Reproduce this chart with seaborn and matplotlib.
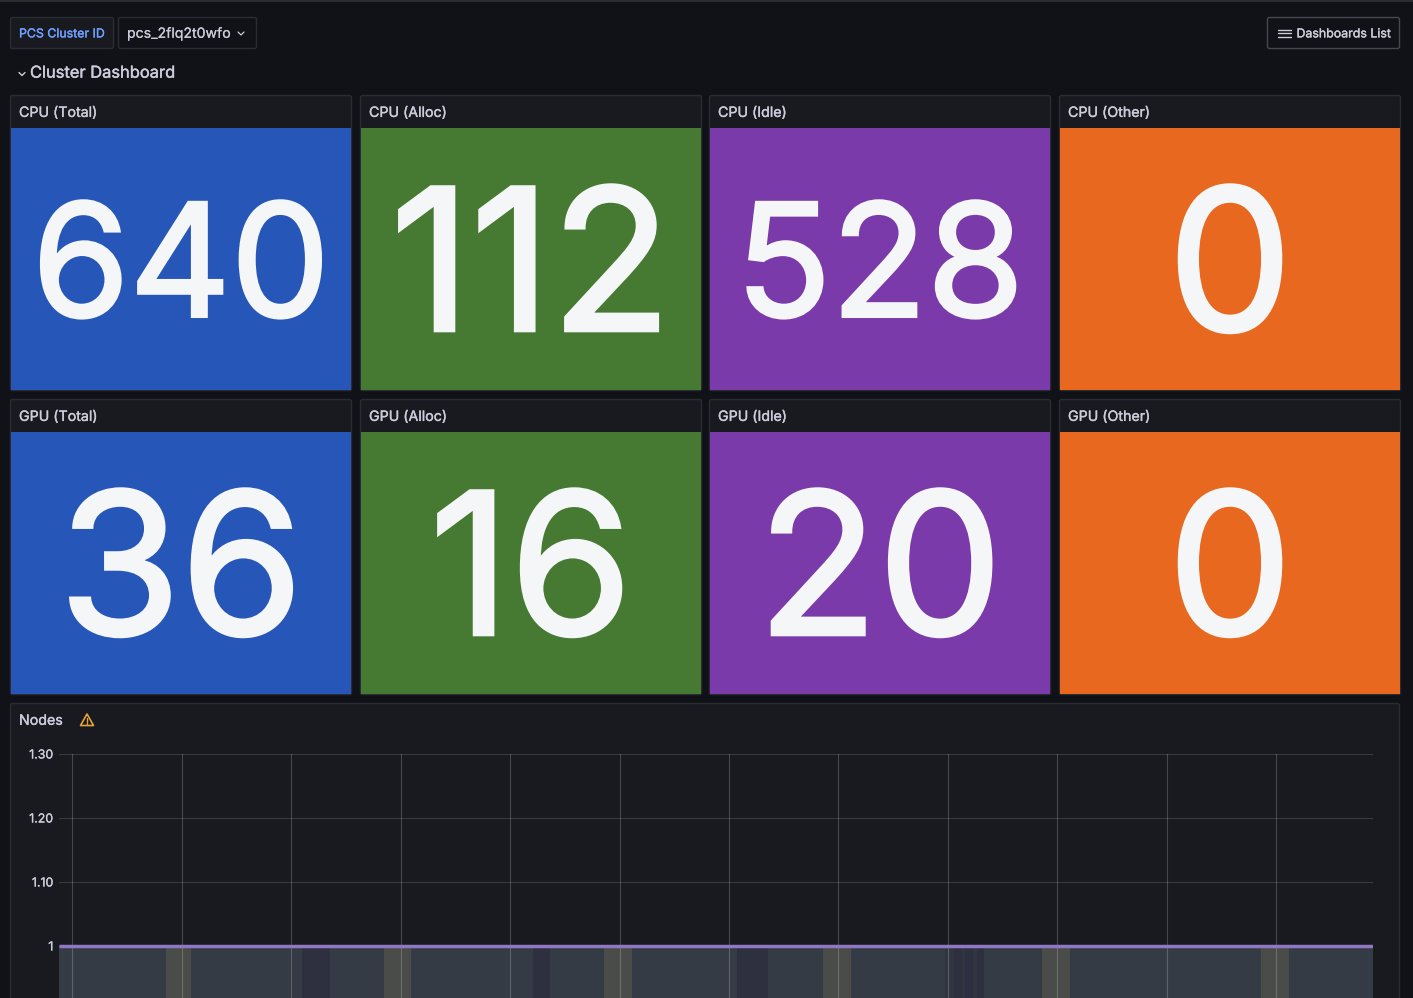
import numpy as np
import pandas as pd
import matplotlib
matplotlib.use("Agg")
import matplotlib.pyplot as plt
import matplotlib.patheffects as pe
from matplotlib.colors import ListedColormap
from matplotlib.patches import FancyBboxPatch, Rectangle, Polygon
import seaborn as sns

# ---- data ----
stat_titles_cpu = ["CPU (Total)", "CPU (Alloc)", "CPU (Idle)", "CPU (Other)"]
stat_titles_gpu = ["GPU (Total)", "GPU (Alloc)", "GPU (Idle)", "GPU (Other)"]
stat_values_cpu = [640, 112, 528, 0]
stat_values_gpu = [36, 16, 20, 0]
stat_colors = ["#2656b8", "#467931", "#7b3aa9", "#e9681f"]

node_x = [-0.119, 11.88]          # grid-step units along the time axis
node_y = [1, 1]
y_ticks = [1.0, 1.1, 1.2, 1.3]
y_tick_labels = ["1", "1.10", "1.20", "1.30"]
time_ticks = list(range(12))
olive_start = [0.855, 2.85, 4.86, 6.855, 8.857, 10.86]
olive_end = [1.088, 3.09, 5.11, 7.11, 9.113, 11.115]
dark_start = [2.10, 4.205, 6.07, 8.06, 8.16, 8.263]
dark_end = [2.354, 4.36, 6.36, 8.126, 8.227, 8.327]
faint_start = [7.97]
faint_end = [8.327]

PAGE = "#111217"
PANEL = "#181a1f"
BORDER = "#2a2c31"
TEXT = "#ccccdc"
W, H = 1413, 998

sns.set_theme(style="dark")
plt.rcParams["font.family"] = ["Inter", "DejaVu Sans"]

fig = plt.figure(figsize=(W / 100, H / 100), dpi=100, facecolor=PAGE)


def frac(x0, y0, x1, y1):
    return [x0 / W, 1 - y1 / H, (x1 - x0) / W, (y1 - y0) / H]


def heavy(width, color):
    return [pe.withStroke(linewidth=width, foreground=color, joinstyle="miter")]


# chrome layer in pixel coordinates
bg = fig.add_axes([0, 0, 1, 1], zorder=0)
bg.set_xlim(0, W)
bg.set_ylim(H, 0)
bg.axis("off")


def box(x0, y0, x1, y1, fc=PANEL, ec=BORDER, lw=1.0, r=2):
    bg.add_patch(FancyBboxPatch((x0, y0), x1 - x0, y1 - y0,
                                boxstyle=f"round,pad=0,rounding_size={r}",
                                fc=fc, ec=ec, lw=lw))


def label(x, y, s, color=TEXT, size=10.25, stroke=0.25):
    bg.text(x, y, s, color=color, fontsize=size, va="center",
            path_effects=heavy(stroke, color))


bg.add_patch(Rectangle((0, 0), W, 1.5, fc="#2a2c31", ec="none"))

# top bar
box(10.5, 17.5, 113.5, 48.5)
label(19, 34.4, "PCS Cluster ID", color="#6e9fff", size=8.9)
box(118.5, 17.5, 256.5, 48.5, fc=PAGE)
label(127, 33.8, "pcs_2flq2t0wfo", size=10.15, stroke=0.1)
bg.plot([238, 241, 244], [32, 35, 32], color=TEXT, lw=0.9)
box(1267.5, 17.5, 1399.5, 48.5, fc=PAGE, ec="#45474d")
for yy in (29.5, 33, 36.5):
    bg.plot([1278, 1290.5], [yy, yy], color=TEXT, lw=1.0)
label(1296.5, 34.4, "Dashboards List", size=8.9)

# row title
bg.plot([19, 22, 25], [72.5, 75.5, 72.5], color=TEXT, lw=1.0)
label(30, 73.2, "Cluster Dashboard", size=11.85, stroke=0.3)

# stat tiles
tile_x = [(11, 351), (361, 701), (710, 1050), (1060, 1400)]
rows = [(95.5, 128, 390, stat_titles_cpu, stat_values_cpu),
        (399.5, 432, 694, stat_titles_gpu, stat_values_gpu)]
for top, y0, y1, titles, values in rows:
    for (x0, x1), title, value, color in zip(tile_x, titles, values, stat_colors):
        box(x0 - 0.5, top, x1 + 0.5, y1 + 0.5)
        label(x0 + 8, top + 17.4, title)
        ax = fig.add_axes(frac(x0, y0, x1, y1), zorder=1)
        big = value < 100 or value == 112
        size = 142 if big else 113
        sns.heatmap(pd.DataFrame([[value]]), ax=ax, cmap=ListedColormap([color]),
                    cbar=False, annot=True, fmt="d", xticklabels=False, yticklabels=False,
                    annot_kws={"fontsize": size, "color": "#f5f6f8", "family": "Inter",
                               "va": "center_baseline",
                               "path_effects": heavy(2.6 if big else 2.2, "#f5f6f8")})

# nodes panel
box(10.5, 703.5, 1399.5, 1010)
label(19, 720.8, "Nodes")
bg.add_patch(Polygon([[87, 714], [93.5, 725.5], [80.5, 725.5]], closed=True, fc="none",
                     ec="#e5a13a", lw=1.2, joinstyle="round"))
bg.plot([87, 87], [718, 721.5], color="#e5a13a", lw=1.0)
bg.plot([87, 87], [723, 723.6], color="#e5a13a", lw=1.0)

# time series
ax = fig.add_axes(frac(59, 754, 1373, 998), zorder=2)
ax.patch.set_alpha(0)
frame = pd.DataFrame({"t": node_x, "nodes": node_y})
ax.fill_between(node_x, node_y, 0, color="#353b45", lw=0, zorder=1)
for a, b in zip(faint_start, faint_end):
    ax.fill_between([a, b], [1, 1], 0, color="#31353f", lw=0, zorder=1.1)
for a, b in zip(dark_start, dark_end):
    ax.fill_between([a, b], [1, 1], 0, color="#2e3040", lw=0, zorder=1.2)
for a, b in zip(olive_start, olive_end):
    ax.fill_between([a, b], [1, 1], 0, color="#494c48", lw=0, zorder=1.2)
sns.lineplot(data=frame, x="t", y="nodes", ax=ax, color="#8f77c3", lw=2.5, zorder=3,
             solid_capstyle="butt")
ax.set_xlim(-0.122, 11.884)
ax.set_ylim(0.91875, 1.30)
ax.set_xticks(time_ticks)
ax.set_yticks(y_ticks)
ax.set_yticklabels(y_tick_labels)
ax.set_xlabel("")
ax.set_ylabel("")
ax.tick_params(axis="x", length=0, labelbottom=False)
ax.tick_params(axis="y", length=0, pad=4.2, labelsize=8.9, labelcolor=TEXT)
for t in ax.get_yticklabels():
    t.set_path_effects(heavy(0.2, TEXT))
ax.grid(True, axis="x", color="white", alpha=0.2, lw=0.8, zorder=2)
ax.grid(True, axis="y", color="white", alpha=0.14, lw=0.8, zorder=2)
ax.set_axisbelow(False)
for s in ax.spines.values():
    s.set_visible(False)
for l in ax.get_ygridlines() + ax.get_xgridlines():
    l.set_zorder(2)

fig.savefig("out.png", dpi=100, facecolor=PAGE)
